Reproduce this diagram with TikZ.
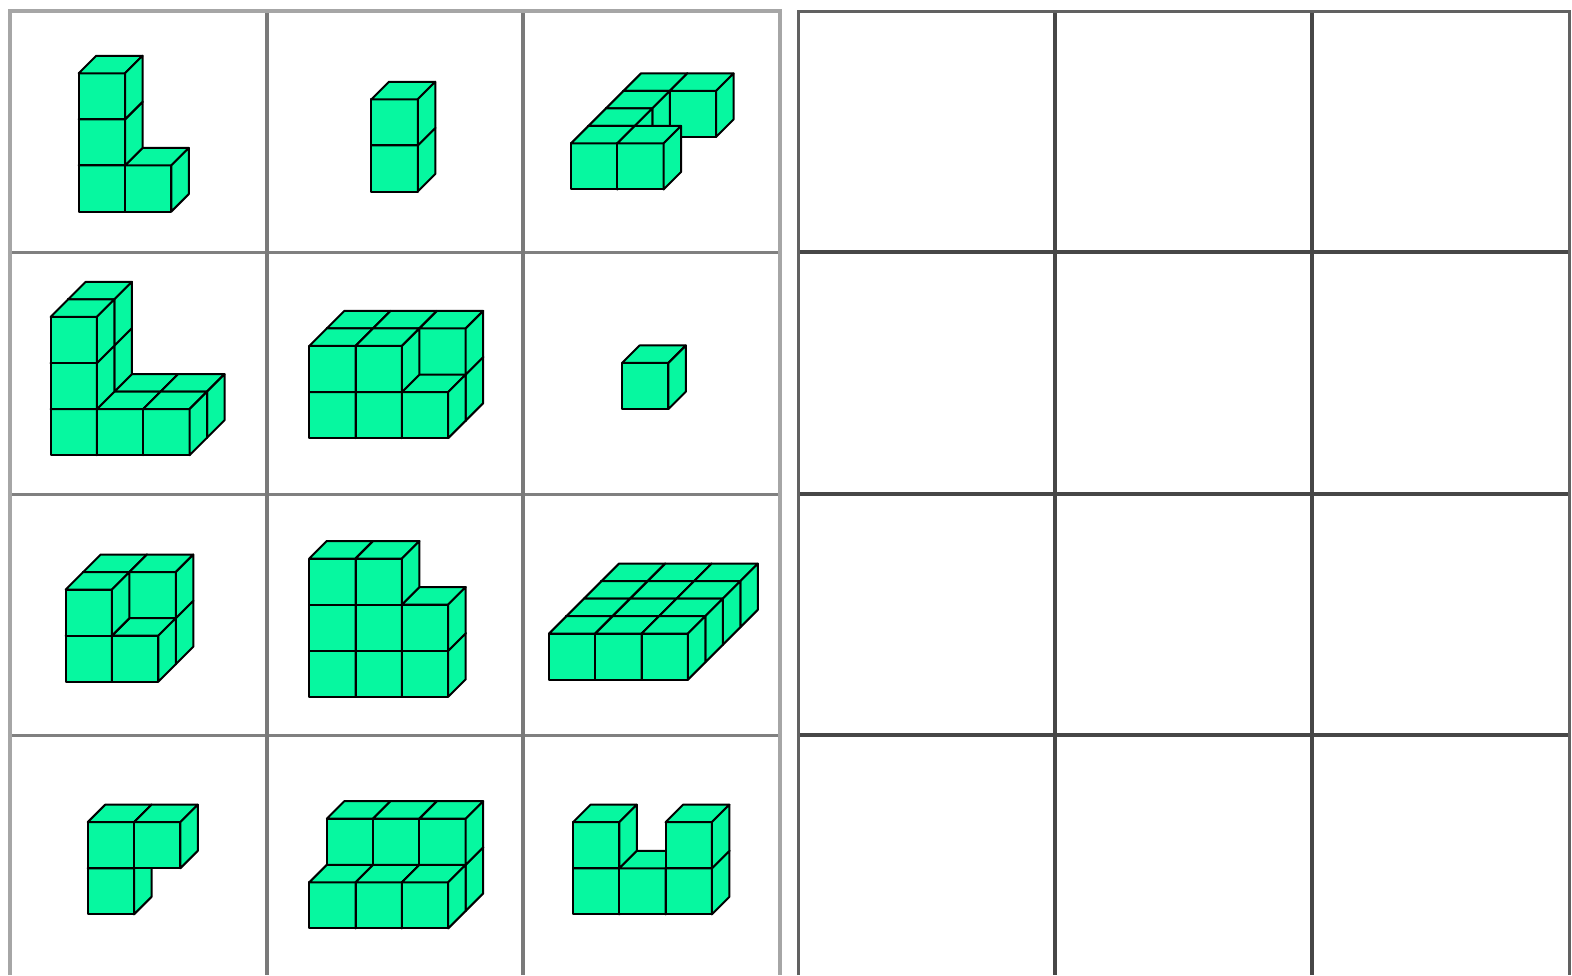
\documentclass[tikz,border=0pt]{standalone}
\definecolor{cubefill}{HTML}{06F8A0}
\tikzset{
  cubeface/.style={fill=cubefill,draw=black,line width=1pt,line join=round},
  gridouter/.style={draw=black!35,line width=1.9pt},
  gridinner/.style={draw=black!52,line width=1.6pt},
  gridhoriz/.style={draw=black!50,line width=1.5pt},
  darkouter/.style={draw=black!62,line width=1.5pt},
  darkinner/.style={draw=black!72,line width=1.6pt},
}
% one cube: origin x, origin y, column, height, depth (in pixels of the reference)
\newcommand{\onecube}[5]{%
  \pgfmathsetmacro{\px}{#1*1.0026+0.5+46.3*#3+17.5*#5}%
  \pgfmathsetmacro{\py}{#2*1.0026-46.1*#4-17.5*#5}%
  \path[cubeface] (\px,\py) -- ++(46.3,0) -- ++(0,-46.1) -- ++(-46.3,0) -- cycle;
  \path[cubeface] (\px,\py-46.1) -- ++(17.5,-17.5) -- ++(46.3,0) -- ++(-17.5,17.5) -- cycle;
  \path[cubeface] (\px+46.3,\py) -- ++(17.5,-17.5) -- ++(0,-46.1) -- ++(-17.5,17.5) -- cycle;
}
\newcommand{\cubegroup}[3]{\foreach \c/\h/\d in {#3} {\onecube{#1}{#2}{\c}{\h}{\d}}}
\begin{document}
\begin{tikzpicture}[x=0.5pt,y=-0.5pt]
\useasboundingbox (0,0) rectangle (1572,975);
\fill[white] (0,0) rectangle (1572,975);
% left grid
\draw[gridhoriz] (10,252) -- (780,252) (10,494) -- (780,494) (10,735) -- (780,735);
\draw[gridinner] (267,10) -- (267,975) (523,10) -- (523,975);
\draw[gridouter] (10,975) -- (10,11) -- (780,11) -- (780,975);
% right grid
\draw[darkinner] (798,252) -- (1569,252) (798,494) -- (1569,494) (798,735) -- (1569,735);
\draw[darkinner] (1055,10) -- (1055,975) (1312,10) -- (1312,975);
\draw[darkouter] (798,975) -- (798,11) -- (1569,11) -- (1569,975);
% row 1
\cubegroup{78}{211}{0/0/0,1/0/0,0/1/0,0/2/0}
\cubegroup{370}{191}{0/0/0,0/1/0}
\cubegroup{569}{189}{0/0/3,1/0/3,0/0/2,0/0/1,0/0/0,1/0/0}
% row 2
\cubegroup{50}{454}{0/0/1,1/0/1,2/0/1,0/1/1,0/2/1,0/0/0,1/0/0,2/0/0,0/1/0,0/2/0}
\cubegroup{308}{437}{0/0/1,1/0/1,2/0/1,0/1/1,1/1/1,2/1/1,0/0/0,1/0/0,2/0/0,0/1/0,1/1/0}
\cubegroup{620}{408}{0/0/0}
% row 3
\cubegroup{65}{680}{0/0/1,1/0/1,0/1/1,1/1/1,0/0/0,1/0/0,0/1/0}
\cubegroup{308}{695}{0/0/0,1/0/0,2/0/0,0/1/0,1/1/0,2/1/0,0/2/0,1/2/0}
\cubegroup{547}{678}{0/0/3,1/0/3,2/0/3,0/0/2,1/0/2,2/0/2,0/0/1,1/0/1,2/0/1,0/0/0,1/0/0,2/0/0}
% row 4
\cubegroup{87}{912}{0/0/0,0/1/0,1/1/0}
\cubegroup{308}{926}{0/0/1,1/0/1,2/0/1,0/1/1,1/1/1,2/1/1,0/0/0,1/0/0,2/0/0}
\cubegroup{571}{912}{0/0/0,1/0/0,2/0/0,0/1/0,2/1/0}
\end{tikzpicture}
\end{document}
